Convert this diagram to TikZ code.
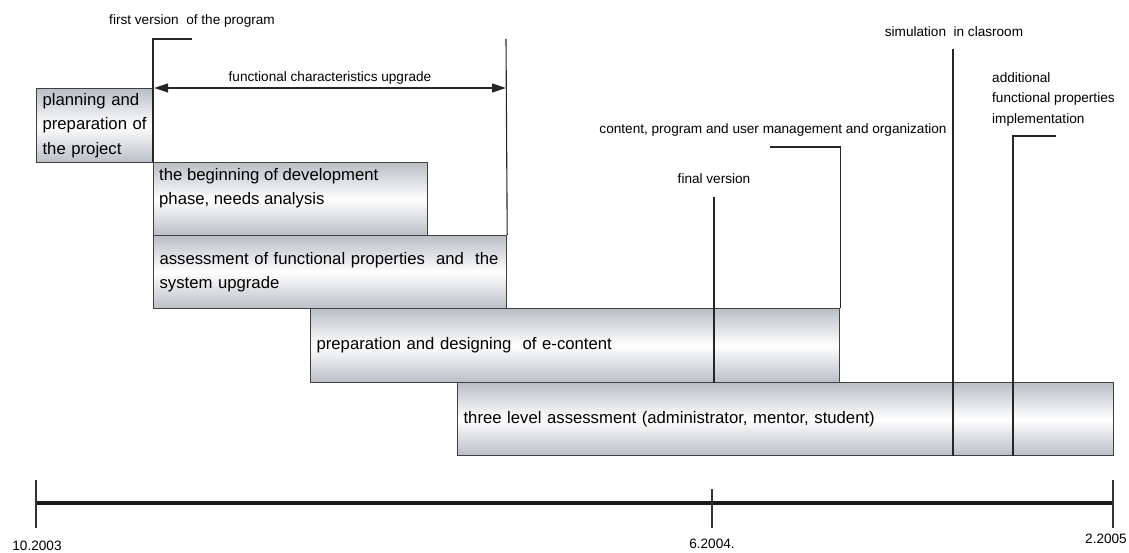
\documentclass[tikz,border=0pt]{standalone}
\usepackage{fontspec}
\setmainfont{Liberation Sans}
\usetikzlibrary{arrows.meta}
\definecolor{barshade}{RGB}{186,190,197}
\definecolor{barline}{RGB}{64,64,64}
\tikzset{
  phase/.style={draw=barline, line width=1.2pt, top color=barshade, bottom color=barshade, middle color=white,
    anchor=north west, inner xsep=6pt, inner ysep=0pt, align=left, font=\fontsize{16.7}{24.5}\selectfont},
  boxtext/.style={anchor=north west, inner sep=0pt, align=left, font=\fontsize{16.7}{24.5}\selectfont},
  note/.style={inner sep=0pt, font=\fontsize{13.6}{20.5}\selectfont},
  marker/.style={draw=black!85, line width=1.1pt},
  tick/.style={draw=black!80, line width=1.1pt}
}
\begin{document}
\begin{tikzpicture}[x=1pt, y=-1pt]
\useasboundingbox (0,0) rectangle (1129,553);
\node[phase, minimum width=117, minimum height=74, text width=105] (plan) at (36,88) {planning and\\preparation of\\the project};
\node[phase, minimum width=274, minimum height=73] (devphase) at (153,162) {};
\node[boxtext] (devtext) at (159,168) {the beginning of development\\phase, needs analysis};
\node[phase, minimum width=353, minimum height=73, text width=341] (assess) at (153,235) {assessment of functional properties~ and~ the\\system upgrade};
\node[phase, minimum width=529, minimum height=74, text width=517] (econtent) at (310,308) {preparation and designing~ of e-content};
\node[phase, minimum width=656, minimum height=73, text width=644] (threelevel) at (457,382) {three level assessment (administrator, mentor, student)};

\node[note] (firstver) at (192,20.5) {first version~ of the program};
\node[note] (upgrade) at (330,77.5) {functional characteristics upgrade};
\node[note] (finalver) at (714,178.5) {final version};
\node[note] (mgmt) at (773,130) {content, program and user management and organization};
\node[note] (simul) at (954,31.5) {simulation~ in clasroom};
\node[note, anchor=north west, align=left] (addprop) at (992,72) {additional\\functional properties\\implementation};

\coordinate (fvend) at (192,39);
\coordinate (upend) at (506,39);
\coordinate (fin) at (714,197);
\coordinate (mgmtend) at (770,147);
\coordinate (simtop) at (953,49);
\coordinate (addend) at (1056,136);
\coordinate (addcorner) at (1013,136);
\path[marker] (fvend) -| (devphase.north west);
\path[marker] (upend) -- (assess.north east);
\path[marker, {Triangle[length=14pt,width=9pt]}-{Triangle[length=14pt,width=9pt]}] (plan.north east) -- (upend |- plan.north east);
\path[marker] (fin) -- (fin |- econtent.south);
\path[marker] (mgmtend) -| (econtent.north east);
\path[marker] (simtop) -- (simtop |- threelevel.south);
\path[marker] (addend) -- (addcorner) -- (addcorner |- threelevel.south);

\coordinate (t0) at (36,503);
\coordinate (t1) at (712,503);
\coordinate (t2) at (1113,503);
\path[draw=black!90, line width=4pt] (t0) -- (t2);
\path[tick] (36,480) -- (36,528);
\path[tick] (712,489) -- (712,528);
\path[tick] (1113,480) -- (1113,528);
\node[note] (d2003) at (37,546) {10.2003};
\node[note] (d2004) at (712,544) {6.2004.};
\node[note] (d2005) at (1106,539) {2.2005};
\end{tikzpicture}
\end{document}
